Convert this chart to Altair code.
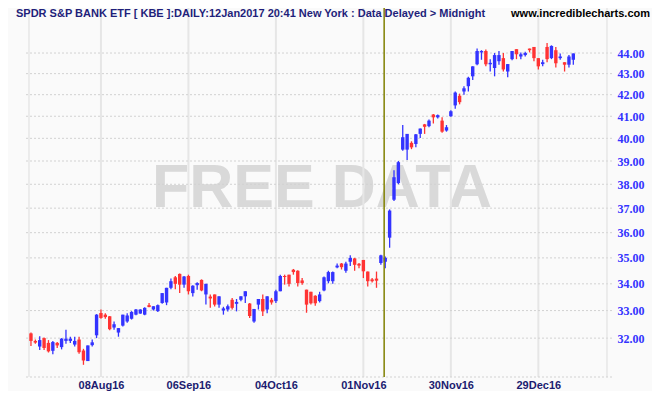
import altair as alt
import pandas as pd

# ---- data ----
opens = [32.17, 31.90, 31.70, 32.00, 31.83, 31.55, 31.83, 31.68, 31.90, 31.90,
         31.77, 31.95, 31.56, 31.19, 31.75, 32.10, 32.91, 32.85, 32.79, 32.38,
         32.20, 32.45, 32.60, 32.70, 32.85, 32.89, 32.85, 33.20, 33.04, 32.98,
         33.28, 33.30, 33.85, 34.25, 34.38, 33.97, 34.30, 33.65, 33.95, 34.15,
         33.60, 33.52, 33.60, 33.22, 33.00, 33.04, 33.40, 33.25, 33.40, 33.53,
         33.26, 32.60, 33.22, 33.43, 33.04, 33.40, 33.35, 33.72, 34.30, 34.35,
         34.54, 34.50, 34.13, 33.78, 33.70, 33.55, 33.35, 33.75, 34.10, 34.10,
         34.63, 34.78, 34.50, 34.85, 34.98, 34.77, 34.92, 34.47, 34.17, 34.20,
         34.80, 34.85, 35.80, 37.35, 38.05, 39.50, 39.50, 39.80, 39.75, 40.20,
         40.63, 40.55, 41.08, 40.95, 40.80, 40.35, 41.00, 41.50, 41.95, 42.15,
         42.40, 42.87, 43.45, 44.03, 44.10, 43.45, 43.27, 43.60, 43.75, 43.10,
         43.70, 44.19, 43.83, 43.90, 44.22, 44.30, 43.75, 43.46, 44.30, 43.75,
         44.14, 43.75, 43.55, 43.43, 43.67]
highs = [32.20, 31.95, 32.07, 32.02, 31.93, 31.90, 31.86, 32.00, 32.30, 32.05,
         32.05, 32.05, 31.62, 31.74, 31.95, 32.87, 33.04, 32.90, 32.80, 32.60,
         32.36, 32.85, 32.90, 32.98, 33.06, 33.05, 33.12, 33.28, 33.16, 33.22,
         33.65, 33.85, 34.20, 34.30, 34.40, 34.30, 34.35, 33.95, 34.06, 34.17,
         34.00, 33.60, 33.60, 33.53, 33.14, 33.22, 33.47, 33.43, 33.53, 33.72,
         33.28, 33.06, 33.43, 33.60, 33.53, 33.47, 33.78, 34.35, 34.35, 34.35,
         34.57, 34.52, 34.22, 33.78, 33.70, 33.57, 33.70, 34.28, 34.50, 34.47,
         34.78, 34.80, 34.85, 35.10, 35.00, 34.80, 34.92, 34.47, 34.22, 34.47,
         35.12, 35.05, 36.95, 38.60, 39.00, 40.60, 40.20, 39.87, 40.20, 40.44,
         40.65, 40.85, 41.10, 41.08, 40.95, 40.60, 41.28, 42.15, 42.05, 42.40,
         42.85, 43.35, 44.22, 44.14, 44.17, 43.70, 44.00, 44.10, 44.00, 43.46,
         44.10, 44.19, 44.03, 44.06, 44.22, 44.30, 43.75, 43.67, 44.50, 44.38,
         44.30, 43.98, 43.55, 43.90, 43.98]
lows = [31.72, 31.80, 31.58, 31.58, 31.49, 31.43, 31.65, 31.60, 31.80, 31.83,
        31.70, 31.45, 31.06, 31.19, 31.70, 32.00, 32.70, 32.70, 32.28, 32.30,
        32.05, 32.42, 32.55, 32.67, 32.83, 32.88, 32.83, 33.12, 33.00, 32.95,
        33.25, 33.20, 33.80, 33.80, 33.65, 33.85, 33.60, 33.52, 33.78, 33.72,
        33.22, 33.10, 33.15, 33.10, 32.85, 32.97, 33.04, 32.97, 33.35, 33.28,
        32.73, 32.55, 33.04, 32.80, 32.90, 33.22, 33.28, 33.72, 33.97, 33.90,
        34.35, 33.90, 33.97, 32.92, 33.22, 33.18, 33.30, 33.72, 34.02, 34.00,
        34.60, 34.55, 34.42, 34.68, 34.50, 34.60, 34.22, 33.90, 34.05, 33.85,
        34.73, 34.60, 35.40, 37.30, 38.00, 39.45, 39.05, 39.52, 39.60, 40.02,
        40.20, 40.50, 40.67, 40.90, 40.25, 40.30, 40.98, 41.35, 41.55, 42.00,
        42.15, 42.70, 43.40, 43.67, 43.35, 43.10, 42.87, 43.43, 43.10, 42.83,
        43.65, 43.70, 43.70, 43.83, 44.03, 43.60, 43.20, 43.35, 43.55, 43.70,
        43.30, 43.67, 43.10, 43.30, 43.43]
closes = [31.90, 31.84, 31.93, 31.65, 31.53, 31.86, 31.74, 31.98, 31.98, 31.98,
          31.90, 31.50, 31.21, 31.74, 31.85, 32.85, 32.73, 32.76, 32.32, 32.50,
          32.36, 32.85, 32.82, 32.95, 33.04, 33.04, 33.10, 33.13, 33.16, 33.20,
          33.65, 33.85, 34.10, 34.00, 33.97, 34.28, 33.72, 33.93, 34.03, 33.75,
          34.00, 33.45, 33.22, 33.53, 33.08, 33.16, 33.10, 33.32, 33.53, 33.72,
          32.80, 33.06, 33.43, 32.97, 33.53, 33.30, 33.72, 34.30, 34.26, 34.00,
          34.45, 34.03, 34.03, 33.22, 33.27, 33.27, 33.60, 34.25, 34.45, 34.45,
          34.70, 34.64, 34.78, 35.00, 34.73, 34.70, 34.48, 34.10, 34.10, 34.12,
          35.10, 35.00, 36.90, 38.30, 38.95, 40.05, 40.20, 39.60, 40.18, 40.44,
          40.52, 40.80, 40.95, 41.05, 40.30, 40.50, 41.23, 42.10, 41.65, 42.30,
          42.80, 43.35, 44.10, 44.10, 43.45, 43.52, 43.90, 43.90, 43.20, 43.46,
          44.10, 43.94, 43.94, 44.00, 44.14, 43.75, 43.35, 43.55, 43.70, 44.35,
          43.50, 43.83, 43.43, 43.83, 43.98]

tick_idx = [16, 36, 56, 76, 96, 116]
tick_labels = ["08Aug16", "06Sep16", "04Oct16", "01Nov16", "30Nov16", "29Dec16"]
price_ticks = [32, 33, 34, 35, 36, 37, 38, 39, 40, 41, 42, 43, 44]
event_idx = [80.75]

title_text = "SPDR S&P BANK ETF [ KBE ]:DAILY:12Jan2017 20:41 New York : Data Delayed > Midnight"
site_text = "www.incrediblecharts.com"
watermark = "FREE DATA"

# ---- chart ----
X_DOM = [-0.45, 131.7]
Y_DOM = [30.64, 46.27]
W, H = 588, 369

df = pd.DataFrame({"i": list(range(len(opens))), "open": opens, "high": highs,
                   "low": lows, "close": closes})
df["dir"] = ["up" if c >= o else "down" for o, c in zip(opens, closes)]

xs = alt.Scale(domain=X_DOM, nice=False, zero=False)
ys = alt.Scale(type="log", domain=Y_DOM, nice=False, zero=False)
col = alt.Color("dir:N", scale=alt.Scale(domain=["up", "down"], range=["#3333ff", "#ff3333"]), legend=None)

expr = "''"
for k, lab in reversed(list(zip(tick_idx, tick_labels))):
    expr = f"datum.value == {k} ? '{lab}' : {expr}"

x_axis = alt.Axis(values=tick_idx, labelExpr=expr, grid=False, ticks=False, domain=False,
                  labelFont="Liberation Sans", labelFontWeight="bold", labelFontSize=11,
                  labelColor="#1c1c70", labelPadding=2, labelBaseline="top", title=None)
y_axis = alt.Axis(orient="right", values=price_ticks, format=".2f", grid=False, ticks=False,
                  domain=False, labelFont="Liberation Serif, DejaVu Serif, serif",
                  labelFontWeight="bold", labelFontSize=12, labelColor="#3333ff",
                  labelPadding=5, title=None)

wm = alt.Chart(pd.DataFrame({"t": [watermark]})).mark_text(
    font="Liberation Sans", fontWeight="bold", fontSize=61, color="#d9d9d9",
    align="center", baseline="alphabetic"
).encode(text="t:N", x=alt.value(298), y=alt.value(199))

vgrid = alt.Chart(pd.DataFrame({"i": tick_idx})).mark_rule(color="#e6e6e6", strokeWidth=2).encode(
    x=alt.X("i:Q", scale=xs, axis=x_axis))
hgrid = alt.Chart(pd.DataFrame({"p": price_ticks})).mark_rule(
    color="#d2d2d2", strokeWidth=1, strokeDash=[2, 2]).encode(
    y=alt.Y("p:Q", scale=ys, axis=y_axis))
lrb = alt.Chart(pd.DataFrame({"i": [X_DOM[0], X_DOM[1]]})).mark_rule(color="#dddddd", strokeWidth=1).encode(
    x=alt.X("i:Q", scale=xs, axis=x_axis))
bottom = alt.Chart(pd.DataFrame({"p": [Y_DOM[0]]})).mark_rule(
    color="#d2d2d2", strokeWidth=1, strokeDash=[2, 2]).encode(
    y=alt.Y("p:Q", scale=ys, axis=y_axis))

wick = alt.Chart(df).mark_rule(strokeWidth=1.3).encode(
    x=alt.X("i:Q", scale=xs, axis=x_axis),
    y=alt.Y("low:Q", scale=ys, axis=y_axis),
    y2="high:Q", color=col)
body = alt.Chart(df).mark_bar(size=3.4).encode(
    x=alt.X("i:Q", scale=xs, axis=x_axis),
    y=alt.Y("open:Q", scale=ys, axis=y_axis),
    y2="close:Q", color=col)

event = alt.Chart(pd.DataFrame({"i": event_idx})).mark_rule(color="#808000", strokeWidth=1.5).encode(
    x=alt.X("i:Q", scale=xs, axis=x_axis))

title = alt.Chart(pd.DataFrame({"t": [title_text]})).mark_text(
    font="Liberation Sans", fontWeight="bold", fontSize=11, color="#1f1f7a",
    align="left", baseline="top").encode(text="t:N", x=alt.value(-8), y=alt.value(0))
site = alt.Chart(pd.DataFrame({"t": [site_text]})).mark_text(
    font="Liberation Sans", fontWeight="bold", fontSize=11, color="#000000",
    align="right", baseline="top").encode(text="t:N", x=alt.value(626), y=alt.value(0))

chart = alt.layer(wm, vgrid, hgrid, lrb, bottom, wick, body, event, title, site).properties(
    width=W, height=H,
    autosize=alt.AutoSizeParams(type="none"),
    padding={"left": 16, "top": 0, "right": 40, "bottom": 14},
    background="#fafafa",
).configure_view(strokeWidth=0)

chart.save("out.html", embed_options={"renderer": "svg", "actions": False})
